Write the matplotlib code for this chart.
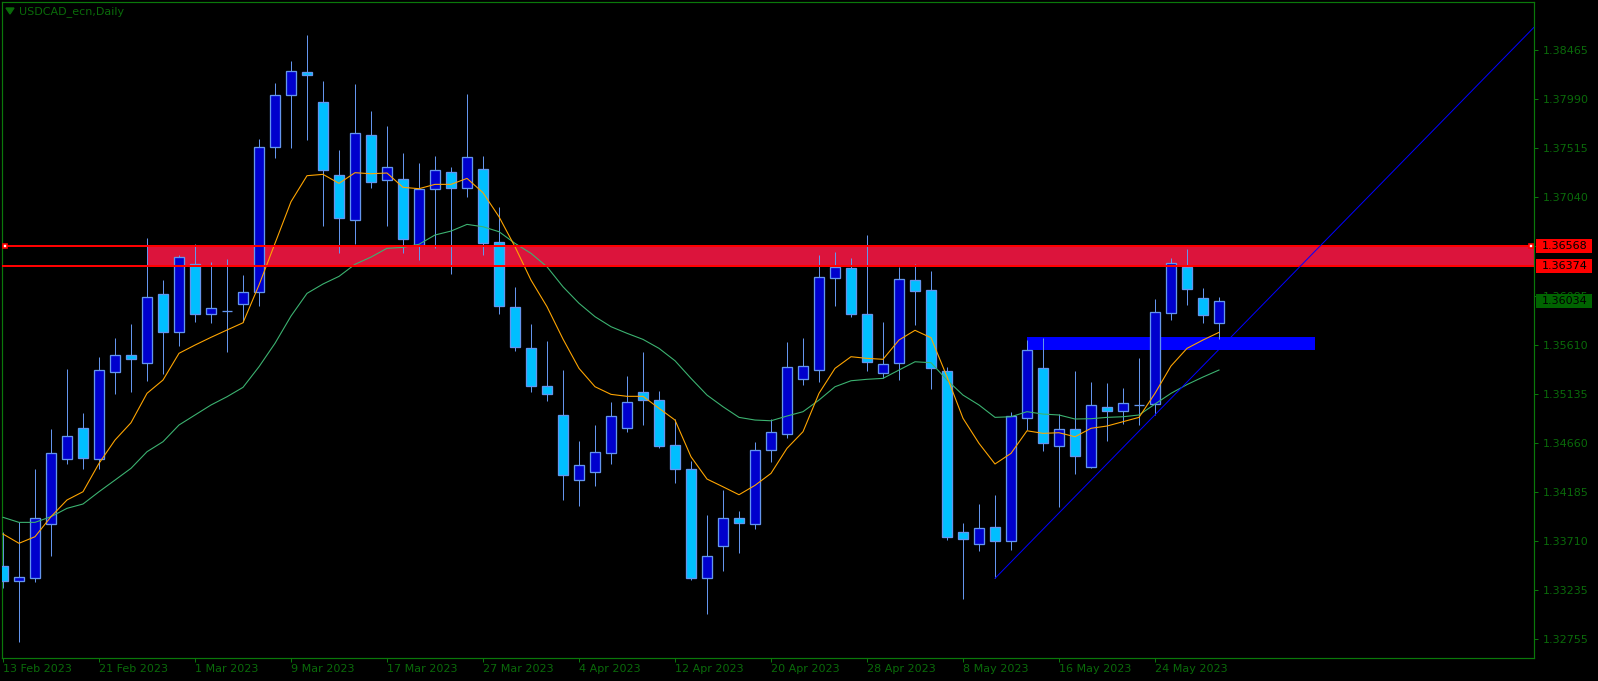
"""USDCAD_ecn diario (13 Feb - 30 May 2023) al estilo MetaTrader 4."""

import matplotlib
matplotlib.use("Agg")
import matplotlib.pyplot as plt
from matplotlib.patches import Rectangle, Polygon
from matplotlib.transforms import blended_transform_factory

# ---------------------------------------------------------------- data
symbol = "USDCAD_ecn,Daily"

tick_labels = ["13 Feb 2023", "21 Feb 2023", "1 Mar 2023", "9 Mar 2023",
               "17 Mar 2023", "27 Mar 2023", "4 Apr 2023", "12 Apr 2023",
               "20 Apr 2023", "28 Apr 2023", "8 May 2023", "16 May 2023",
               "24 May 2023"]
tick_every = 6  # one label every 6 daily bars

opens = [1.33467, 1.33318, 1.33347, 1.33871, 1.34501, 1.34802, 1.34501, 1.35345, 1.35509, 1.35432,
         1.36101, 1.35738, 1.36392, 1.35907, 1.35936, 1.36004, 1.36126, 1.37526, 1.38030, 1.38259,
         1.37962, 1.37254, 1.36818, 1.37642, 1.37206, 1.37216, 1.36579, 1.37119, 1.37284, 1.37134,
         1.37313, 1.36605, 1.35975, 1.35577, 1.35209, 1.34928, 1.34303, 1.34381, 1.34565, 1.34807,
         1.35151, 1.35073, 1.34637, 1.34404, 1.33353, 1.33663, 1.33929, 1.33871, 1.34588, 1.34743,
         1.35277, 1.35364, 1.36256, 1.36353, 1.35907, 1.35335, 1.35432, 1.36239, 1.36140, 1.35357,
         1.33793, 1.33677, 1.33842, 1.33706, 1.34899, 1.35383, 1.34627, 1.34792, 1.34424, 1.35005,
         1.34966, 1.35030, 1.35034, 1.35917, 1.36363, 1.36065, 1.35825]
highs = [1.33796, 1.33896, 1.34407, 1.34795, 1.35377, 1.34950, 1.35493, 1.35677, 1.35813, 1.36647,
         1.36239, 1.36482, 1.36588, 1.36414, 1.36443, 1.36288, 1.37606, 1.38149, 1.38363, 1.38615,
         1.38169, 1.37500, 1.38140, 1.37878, 1.37732, 1.37468, 1.37371, 1.37442, 1.37335, 1.38043,
         1.37442, 1.36947, 1.36172, 1.35813, 1.35648, 1.35367, 1.34678, 1.34834, 1.35057, 1.35309,
         1.35541, 1.35163, 1.34892, 1.34485, 1.33961, 1.34203, 1.34000, 1.34669, 1.34892, 1.35638,
         1.35677, 1.36482, 1.36511, 1.36453, 1.36676, 1.35832, 1.36363, 1.36395, 1.36327, 1.35393,
         1.33884, 1.34068, 1.34155, 1.34957, 1.35658, 1.35677, 1.34937, 1.35357, 1.35251, 1.35241,
         1.35192, 1.35483, 1.36055, 1.36453, 1.36540, 1.36165, 1.36077]
lows = [1.33253, 1.32733, 1.33314, 1.33566, 1.34456, 1.34410, 1.34410, 1.35137, 1.35156, 1.35263,
        1.35331, 1.35602, 1.35835, 1.35820, 1.35544, 1.35835, 1.35990, 1.37425, 1.37522, 1.37600,
        1.36766, 1.36504, 1.36591, 1.37134, 1.36766, 1.36504, 1.36433, 1.36553, 1.36300, 1.37047,
        1.36482, 1.35913, 1.35554, 1.35156, 1.35069, 1.34109, 1.34051, 1.34245, 1.34458, 1.34769,
        1.34834, 1.34614, 1.34271, 1.33334, 1.33004, 1.33421, 1.33593, 1.33825, 1.34478, 1.34705,
        1.35224, 1.35248, 1.35990, 1.35884, 1.35360, 1.35289, 1.35273, 1.35806, 1.35186, 1.33716,
        1.33150, 1.33615, 1.33347, 1.33625, 1.34785, 1.34584, 1.34042, 1.34361, 1.34420, 1.34681,
        1.34846, 1.34834, 1.34933, 1.35854, 1.36000, 1.35825, 1.35670]
closes = [1.33324, 1.33357, 1.33929, 1.34559, 1.34724, 1.34511, 1.35364, 1.35509, 1.35476, 1.36072,
          1.35738, 1.36459, 1.35907, 1.35965, 1.35939, 1.36120, 1.37526, 1.38030, 1.38263, 1.38224,
          1.37303, 1.36838, 1.37662, 1.37192, 1.37332, 1.36634, 1.37119, 1.37303, 1.37134, 1.37429,
          1.36601, 1.35987, 1.35587, 1.35215, 1.35137, 1.34352, 1.34443, 1.34569, 1.34918, 1.35054,
          1.35079, 1.34633, 1.34410, 1.33353, 1.33561, 1.33929, 1.33881, 1.34588, 1.34763, 1.35393,
          1.35403, 1.36266, 1.36363, 1.35907, 1.35447, 1.35425, 1.36246, 1.36136, 1.35383, 1.33745,
          1.33725, 1.33832, 1.33712, 1.34918, 1.35558, 1.34656, 1.34792, 1.34536, 1.35025, 1.34972,
          1.35044, 1.35031, 1.35932, 1.36401, 1.36155, 1.35903, 1.36034]

# medias moviles tal como aparecen en el grafico
ma_fast = [1.33777, 1.33687, 1.33751, 1.33945, 1.34107, 1.34187, 1.34462, 1.34688, 1.34856, 1.35141,
           1.35270, 1.35529, 1.35609, 1.35684, 1.35755, 1.35825, 1.36191, 1.36595, 1.36999, 1.37251,
           1.37264, 1.37177, 1.37280, 1.37270, 1.37277, 1.37138, 1.37125, 1.37167, 1.37167, 1.37225,
           1.37086, 1.36853, 1.36562, 1.36239, 1.35981, 1.35667, 1.35383, 1.35205, 1.35131, 1.35112,
           1.35112, 1.34996, 1.34882, 1.34526, 1.34310, 1.34235, 1.34158, 1.34249, 1.34365, 1.34608,
           1.34769, 1.35141, 1.35383, 1.35496, 1.35480, 1.35471, 1.35658, 1.35752, 1.35680, 1.35302,
           1.34899, 1.34656, 1.34456, 1.34559, 1.34778, 1.34753, 1.34759, 1.34720, 1.34802, 1.34824,
           1.34866, 1.34908, 1.35141, 1.35406, 1.35577, 1.35658, 1.35732]
ma_slow = [1.33939, 1.33890, 1.33890, 1.33945, 1.34026, 1.34068, 1.34187, 1.34300, 1.34414, 1.34575,
           1.34672, 1.34834, 1.34931, 1.35028, 1.35108, 1.35199, 1.35399, 1.35626, 1.35890, 1.36110,
           1.36201, 1.36275, 1.36392, 1.36462, 1.36547, 1.36556, 1.36586, 1.36676, 1.36714, 1.36779,
           1.36756, 1.36708, 1.36595, 1.36498, 1.36368, 1.36174, 1.36014, 1.35884, 1.35787, 1.35723,
           1.35664, 1.35577, 1.35457, 1.35286, 1.35124, 1.35011, 1.34908, 1.34882, 1.34875, 1.34921,
           1.34963, 1.35076, 1.35205, 1.35263, 1.35277, 1.35286, 1.35367, 1.35447, 1.35438, 1.35270,
           1.35124, 1.35028, 1.34908, 1.34914, 1.34963, 1.34940, 1.34931, 1.34892, 1.34895, 1.34908,
           1.34914, 1.34931, 1.35037, 1.35141, 1.35226, 1.35299, 1.35367]

price_ticks = [1.38465, 1.37990, 1.37515, 1.37040, 1.36565, 1.36085, 1.35610,
               1.35135, 1.34660, 1.34185, 1.33710, 1.33235, 1.32755]

zone_top, zone_bottom, zone_start = 1.36568, 1.36374, 9
box_top, box_bottom, box_start, box_end = 1.35684, 1.35564, 64, 82
trend_bars = [62, 72]
trend_prices = [1.33347, 1.34933]
last_price = 1.36034

# ---------------------------------------------------------------- style
W, H = 1598, 681
GREEN_LINE = "#0a780a"
GREEN_TEXT = "#0a6a0a"
BULL, BEAR, EDGE = "#0000cd", "#00bfff", "#6495ed"
PX = 0.72  # un pixel en puntos (dpi 100)

fig = plt.figure(figsize=(W / 100, H / 100), dpi=100, facecolor="black")
ax = fig.add_axes([2 / W, 23 / H, 1532 / W, 656 / H], facecolor="black")
ax.set_xlim(-0.0625, 95.6875)
ax.set_ylim(1.32575, 1.38935)

n = len(closes)
x = list(range(n))

# zona roja y rectangulo azul (fondo)
ax.fill_between([zone_start, 100], zone_bottom, zone_top, color="#dc143c", lw=0, zorder=1)
ax.fill_between([box_start, box_end], box_bottom, box_top, color="#0000ff", lw=0, zorder=1)

# velas
ax.vlines(x, lows, highs, color=EDGE, lw=PX, zorder=2)
bottoms = [min(o, c) for o, c in zip(opens, closes)]
heights = [abs(c - o) for o, c in zip(opens, closes)]
fills = [BULL if c > o else BEAR for o, c in zip(opens, closes)]
ax.bar(x, heights, bottom=bottoms, width=0.6, color=fills, edgecolor=EDGE,
       linewidth=1.3 * PX, zorder=3)

# medias moviles
ax.plot(x, ma_slow, color="#3cb371", lw=PX * 1.1, zorder=4)
ax.plot(x, ma_fast, color="#ffa500", lw=PX * 1.1, zorder=4)

# lineas horizontales de la zona
ax.axhline(zone_top, color="#ff0000", lw=2 * PX, zorder=5)
ax.axhline(zone_bottom, color="#ff0000", lw=2 * PX, zorder=5)
bt = blended_transform_factory(ax.transAxes, ax.transData)
for xa in (0.002, 0.998):
    ax.plot([xa], [zone_top], marker="s", ms=3.5, mfc="white", mec="#ff0000",
            mew=1.2, transform=bt, clip_on=False, zorder=6)

# linea de tendencia (rayo hacia la derecha)
slope = (trend_prices[1] - trend_prices[0]) / (trend_bars[1] - trend_bars[0])
ray_end = 100
ax.plot([trend_bars[0], ray_end],
        [trend_prices[0], trend_prices[0] + slope * (ray_end - trend_bars[0])],
        color="#0000ff", lw=PX, zorder=5)

# ejes
for sp in ax.spines.values():
    sp.set_color(GREEN_LINE)
    sp.set_linewidth(PX * 1.2)
ax.set_xticks(x[::tick_every])
ax.set_xticklabels(tick_labels, ha="left")
ax.yaxis.tick_right()
ax.set_yticks(price_ticks)
ax.set_yticklabels([f"{p:.5f}" for p in price_ticks], ha="left")
ax.tick_params(axis="both", colors=GREEN_LINE, labelcolor=GREEN_TEXT,
               labelsize=8, length=3, width=PX, direction="out")
ax.tick_params(axis="x", pad=1)
ax.tick_params(axis="y", pad=3)

# etiquetas de precio a la derecha
ft = blended_transform_factory(fig.transFigure, ax.transData)
half = 7 * (1.38935 - 1.32575) / 656
for price, face in ((zone_top, "#ff0000"), (zone_bottom, "#ff0000"), (last_price, "#006400")):
    ax.add_patch(Rectangle((1536 / W, price - half), 56 / W, 2 * half, transform=ft,
                           facecolor=face, edgecolor="none", clip_on=False, zorder=7))
    ax.text(1542 / W, price, f"{price:.5f}", transform=ft, color="black", fontsize=8,
            va="center", ha="left", clip_on=False, zorder=8)

# titulo
fig.text(19 / W, 1 - 12 / H, symbol, color=GREEN_TEXT, fontsize=8, va="center", ha="left")
fig.add_artist(Polygon([[6 / W, 1 - 8 / H], [14 / W, 1 - 8 / H], [10 / W, 1 - 14 / H]],
                       closed=True, transform=fig.transFigure, color=GREEN_TEXT))

plt.savefig("out.png", dpi=100, facecolor="black")
plt.close()
